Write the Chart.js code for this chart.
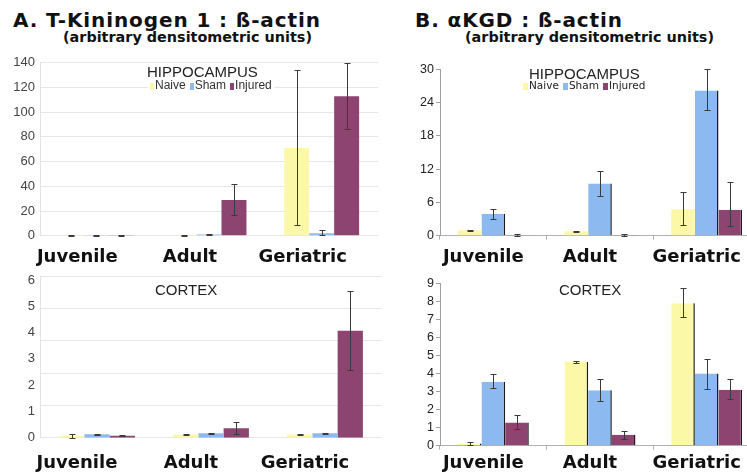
<!DOCTYPE html>
<html>
<head>
<meta charset="utf-8">
<script src="https://cdn.jsdelivr.net/npm/chart.js@4.4.1/dist/chart.umd.min.js"></script>
<style>
  html, body { margin: 0; padding: 0; background: #fff; overflow: hidden; width: 747px; height: 475px; }
  body { position: relative; font-family: 'DejaVu Sans', sans-serif; }
  canvas { position: absolute; }
  .t { position: absolute; white-space: nowrap; line-height: 1; }
  .title { font-weight: bold; font-size: 20px; letter-spacing: 0.9px; color: #111; top: 10px; }
  .sub { font-weight: bold; font-size: 14.4px; color: #111; top: 29.5px; }
  .region { font-family: 'Liberation Sans', Arial, sans-serif; font-size: 15px; color: #222; }
  .legA { font-family: 'Liberation Sans Narrow', 'Liberation Sans', sans-serif; font-size: 12px; color: #333; background: #fff; padding: 0 2px; }
  .legB { font-family: 'DejaVu Sans', sans-serif; font-size: 10.5px; color: #222; }
  .sq { display: inline-block; width: 4px; height: 7px; margin-right: 1px; vertical-align: -1px; }
  .gap { display: inline-block; width: 4px; }
</style>
</head>
<body>
<div class="t title" style="left:13px">A. T-Kininogen 1 : ß-actin</div>
<div class="t sub" style="left:63px">(arbitrary densitometric units)</div>
<div class="t title" style="left:415px">B. αKGD : ß-actin</div>
<div class="t sub" style="left:465px">(arbitrary densitometric units)</div>

<canvas id="kinHippo" width="380" height="225" style="left:0;top:50px"></canvas>
<canvas id="kinCortex" width="386" height="213" style="left:0;top:262px"></canvas>
<canvas id="kgdHippo" width="382" height="225" style="left:380px;top:50px"></canvas>
<canvas id="kgdCortex" width="382" height="213" style="left:380px;top:262px"></canvas>

<div class="t region" style="left:147px;top:64px">HIPPOCAMPUS</div>
<div class="t legA" style="left:148px;top:79px"><span class="sq" style="background:#fbf8a8"></span>Naive<span class="gap"></span><span class="sq" style="background:#8cb9f0"></span>Sham<span class="gap"></span><span class="sq" style="background:#8d4470"></span>Injured</div>
<div class="t region" style="left:155px;top:282px">CORTEX</div>

<div class="t region" style="left:529px;top:65.6px">HIPPOCAMPUS</div>
<div class="t legB" style="left:523px;top:80.4px"><span class="sq" style="background:#fbf8a8;width:5px"></span>Naive<span class="gap"></span><span class="sq" style="background:#8cb9f0;width:5px"></span>Sham<span class="gap"></span><span class="sq" style="background:#8d4470;width:5px"></span>Injured</div>
<div class="t region" style="left:559px;top:282px">CORTEX</div>

<script>
const categories = ['Juvenile', 'Adult', 'Geriatric'];
const groups = ['Naive', 'Sham', 'Injured'];
const groupColors = ['#fbf8a8', '#8cb9f0', '#8d4470'];

// A. T-Kininogen 1 : ß-actin, hippocampus
const kinHippoNaive = [0.2, 0.2, 71];
const kinHippoSham = [0.2, 1, 2];
const kinHippoInjured = [0.2, 29, 113];
const kinHippoNaiveErr = [[0, 0.5], [0, 0.5], [9, 134]];
const kinHippoShamErr = [[0, 0.5], [0.5, 1.5], [0.5, 4.5]];
const kinHippoInjuredErr = [[0, 0.5], [17, 42], [86.5, 140]];
const kinHippoTicks = [0, 20, 40, 60, 80, 100, 120, 140];

// A. T-Kininogen 1 : ß-actin, cortex
const kinCortexNaive = [0.06, 0.12, 0.12];
const kinCortexSham = [0.13, 0.17, 0.17];
const kinCortexInjured = [0.07, 0.36, 4.07];
const kinCortexNaiveErr = [[0, 0.14], [0.1, 0.14], [0.1, 0.14]];
const kinCortexShamErr = [[0.12, 0.14], [0.15, 0.19], [0.15, 0.19]];
const kinCortexInjuredErr = [[0.05, 0.1], [0.14, 0.6], [2.57, 5.58]];
const kinCortexTicks = [0, 1, 2, 3, 4, 5, 6];

// B. αKGD : ß-actin, hippocampus
const kgdHippoNaive = [1.0, 0.8, 4.75];
const kgdHippoSham = [3.96, 9.4, 26.2];
const kgdHippoInjured = [0.05, 0.05, 4.7];
const kgdHippoNaiveErr = [[0.9, 1.1], [0.7, 0.9], [1.9, 7.8]];
const kgdHippoShamErr = [[3.1, 4.9], [7.1, 11.7], [22.6, 30.1]];
const kgdHippoInjuredErr = [[0, 0.35], [0, 0.25], [1.75, 9.6]];
const kgdHippoTicks = [0, 6, 12, 18, 24, 30];

// B. αKGD : ß-actin, cortex
const kgdCortexNaive = [0.12, 4.64, 7.9];
const kgdCortexSham = [3.55, 3.07, 4.0];
const kgdCortexInjured = [1.28, 0.6, 3.1];
const kgdCortexNaiveErr = [[0.05, 0.22], [4.6, 4.7], [7.12, 8.72]];
const kgdCortexShamErr = [[3.2, 3.95], [2.5, 3.68], [3.16, 4.8]];
const kgdCortexInjuredErr = [[0.93, 1.68], [0.37, 0.83], [2.57, 3.7]];
const kgdCortexTicks = [0, 1, 2, 3, 4, 5, 6, 7, 8, 9];

// draws the whiskers from each dataset's errors through the y scale
const errorBars = {
  id: 'errorBars',
  afterDatasetsDraw(chart) {
    const ctx = chart.ctx;
    const y = chart.scales.y;
    chart.data.datasets.forEach((ds, i) => {
      chart.getDatasetMeta(i).data.forEach((bar, j) => {
        const [lo, hi] = ds.errors[j];
        const x = Math.round(bar.x) + 0.5;
        const top = Math.round(y.getPixelForValue(hi)) + 0.5;
        const bot = Math.round(y.getPixelForValue(lo)) + 0.5;
        ctx.save();
        ctx.strokeStyle = '#3a3a3a';
        ctx.lineWidth = 1;
        ctx.beginPath();
        ctx.moveTo(x, top); ctx.lineTo(x, bot);
        ctx.moveTo(x - 3, top); ctx.lineTo(x + 3, top);
        ctx.moveTo(x - 3, bot); ctx.lineTo(x + 3, bot);
        ctx.stroke();
        ctx.restore();
      });
    });
  }
};

function drawPanel(id, o) {
  const styleA = o.style === 'A';
  const datasets = o.series.map((values, k) => ({
    label: groups[k],
    data: values,
    errors: o.errors[k],
    backgroundColor: groupColors[k],
    borderColor: '#1c1c1c',
    borderWidth: o.edges && o.edges[k] ? { top: 0, left: 0, bottom: 0, right: 1.5 } : 0,
    categoryPercentage: 0.665,
    barPercentage: 1
  }));

  const scales = {
    x: {
      grid: styleA ? { display: false, drawTicks: false }
                   : { drawOnChartArea: false, tickLength: 4, color: '#b0b0b0', offset: true },
      border: { display: !styleA, color: '#b0b0b0' },
      ticks: {
        font: { family: 'DejaVu Sans', weight: 'bold', size: 18 },
        color: '#111',
        labelOffset: o.labelOffset,
        padding: o.xPad
      },
      afterFit: s => { s.height = o.xH; }
    },
    y: {
      min: 0,
      max: o.max,
      afterBuildTicks: s => { s.ticks = o.ticks.map(v => ({ value: v })); },
      ticks: {
        font: styleA ? { family: "'Liberation Sans Narrow', 'Liberation Sans'", size: 13 }
                     : { family: 'Liberation Sans', size: 12.5 },
        color: styleA ? '#444' : '#222',
        padding: styleA ? 5 : 2
      },
      grid: styleA ? { display: !o.gridSteps, color: '#e6e6e6', drawTicks: false }
                   : { drawOnChartArea: false, tickLength: 4, color: '#a0a0a0' },
      border: { display: true, color: styleA ? '#e2e2e2' : '#a0a0a0' },
      afterFit: s => { s.width = o.yW; }
    }
  };
  if (o.gridSteps) {
    // the gridlines of this panel do not sit on its tick labels
    scales.yg = {
      position: 'left',
      min: 0,
      max: o.gridSteps,
      ticks: { display: false, stepSize: 1 },
      grid: { color: '#e6e6e6', drawTicks: false },
      border: { display: false },
      afterFit: s => { s.width = 0; }
    };
  }

  new Chart(document.getElementById(id), {
    type: 'bar',
    data: { labels: categories, datasets },
    options: {
      responsive: false,
      animation: false,
      layout: { padding: { left: 0, right: o.padR, top: o.padT, bottom: 0 } },
      plugins: { legend: { display: false }, tooltip: { enabled: false } },
      scales
    },
    plugins: [errorBars]
  });
}

drawPanel('kinHippo', {
  style: 'A',
  series: [kinHippoNaive, kinHippoSham, kinHippoInjured],
  errors: [kinHippoNaiveErr, kinHippoShamErr, kinHippoInjuredErr],
  ticks: kinHippoTicks, max: 140,
  yW: 40, xH: 39.3, padR: 2, padT: 10.7, xPad: 10.5, labelOffset: -19
});

drawPanel('kinCortex', {
  style: 'A',
  series: [kinCortexNaive, kinCortexSham, kinCortexInjured],
  errors: [kinCortexNaiveErr, kinCortexShamErr, kinCortexInjuredErr],
  ticks: kinCortexTicks, max: 6.15, gridSteps: 5,
  yW: 40, xH: 37.3, padR: 4, padT: 14, xPad: 14.5, labelOffset: -20
});

drawPanel('kgdHippo', {
  style: 'B',
  series: [kgdHippoNaive, kgdHippoSham, kgdHippoInjured],
  errors: [kgdHippoNaiveErr, kgdHippoShamErr, kgdHippoInjuredErr],
  edges: [false, true, true],
  ticks: kgdHippoTicks, max: 30,
  yW: 60, xH: 39.3, padR: 2, padT: 19.3, xPad: 6.5, labelOffset: -10
});

drawPanel('kgdCortex', {
  style: 'B',
  series: [kgdCortexNaive, kgdCortexSham, kgdCortexInjured],
  errors: [kgdCortexNaiveErr, kgdCortexShamErr, kgdCortexInjuredErr],
  edges: [true, true, true],
  ticks: kgdCortexTicks, max: 9,
  yW: 60, xH: 29.3, padR: 2, padT: 21.3, xPad: 2.5, labelOffset: -10
});
</script>
</body>
</html>
